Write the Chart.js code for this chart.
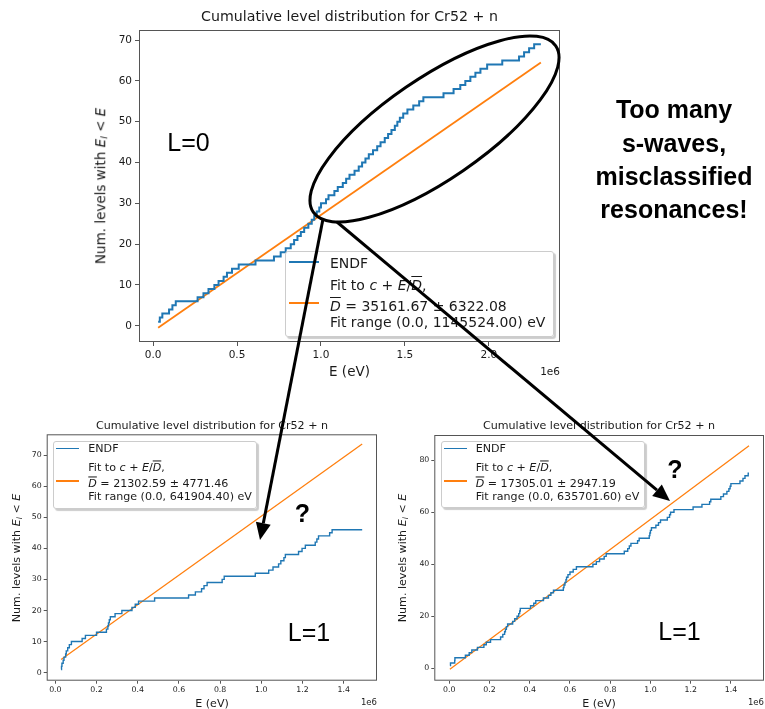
<!DOCTYPE html>
<html><head><meta charset="utf-8">
<script src="https://cdn.jsdelivr.net/npm/chart.js@4.4.0/dist/chart.umd.min.js"></script>
<style>
html,body{margin:0;padding:0;background:#fff;}
#stage{position:relative;width:765px;height:709px;overflow:hidden;font-family:"DejaVu Sans",sans-serif;color:#1a1a1a;}
canvas{position:absolute;}
.t{position:absolute;white-space:nowrap;line-height:1;}
.c{transform:translate(-50%,-50%);}
.l{transform:translate(0,-50%);}
.r{transform:translate(-100%,-50%);}
.rot{transform:translate(-50%,-50%) rotate(-90deg);}
.leg{position:absolute;border:1px solid #ccc;border-radius:3px;background:rgba(255,255,255,0.8);box-shadow:2px 2px 1px rgba(0,0,0,0.2);box-sizing:border-box;}
.smp{position:absolute;}
.ann{font-family:"Liberation Sans",Arial,sans-serif;color:#000;}
.b{font-weight:bold;}
.ol{text-decoration:overline;}
sub{font-size:0.7em;vertical-align:-0.25em;line-height:0;}
</style></head>
<body>
<div id="stage">
<canvas id="cTop"></canvas>
<canvas id="cL1a"></canvas>
<canvas id="cL1b"></canvas>

<!-- top chart texts -->
<div class="t c" style="left:349.5px;top:16px;font-size:14.2px">Cumulative level distribution for Cr52 + n</div>
<div class="t rot" style="left:101px;top:186px;font-size:13.5px">Num. levels with <i>E<sub>l</sub></i> &lt; <i>E</i></div>
<div class="t c" style="left:349.5px;top:372px;font-size:13.5px">E (eV)</div>
<div class="t r" style="left:560px;top:371px;font-size:10.5px">1e6</div>
<div class="leg" style="left:285px;top:251px;width:269px;height:86px"></div>
<div class="smp" style="left:289px;top:261px;width:30px;height:2px;background:#1f77b4"></div>
<div class="t l" style="left:330px;top:262.5px;font-size:14px">ENDF</div>
<div class="t l" style="left:330px;top:285px;font-size:14px">Fit to <i>c</i> + <i>E</i>/<i class="ol">D</i>,</div>
<div class="smp" style="left:289px;top:302px;width:30px;height:2px;background:#ff7f0e"></div>
<div class="t l" style="left:330px;top:306px;font-size:14px"><i class="ol">D</i> = 35161.67 ± 6322.08</div>
<div class="t l" style="left:330px;top:321.5px;font-size:14px">Fit range (0.0, 1145524.00) eV</div>

<!-- bottom-left chart texts -->
<div class="t c" style="left:212px;top:425.5px;font-size:11.1px">Cumulative level distribution for Cr52 + n</div>
<div class="t rot" style="left:16.5px;top:557.5px;font-size:11.1px">Num. levels with <i>E<sub>l</sub></i> &lt; <i>E</i></div>
<div class="t c" style="left:212px;top:704px;font-size:11.1px">E (eV)</div>
<div class="t r" style="left:377px;top:702px;font-size:8.5px">1e6</div>
<div class="leg" style="left:52.5px;top:440.5px;width:204px;height:68px"></div>
<div class="smp" style="left:55.5px;top:447.6px;width:23px;height:1.5px;background:#1f77b4"></div>
<div class="t l" style="left:88.3px;top:448.7px;font-size:11.1px">ENDF</div>
<div class="t l" style="left:88.3px;top:468px;font-size:11.1px">Fit to <i>c</i> + <i>E</i>/<i class="ol">D</i>,</div>
<div class="smp" style="left:55.5px;top:480px;width:23px;height:1.5px;background:#ff7f0e"></div>
<div class="t l" style="left:88.3px;top:484px;font-size:11.1px"><i class="ol">D</i> = 21302.59 ± 4771.46</div>
<div class="t l" style="left:88.3px;top:497px;font-size:11.1px">Fit range (0.0, 641904.40) eV</div>

<!-- bottom-right chart texts -->
<div class="t c" style="left:599px;top:425.5px;font-size:11.1px">Cumulative level distribution for Cr52 + n</div>
<div class="t rot" style="left:403px;top:557.5px;font-size:11.1px">Num. levels with <i>E<sub>l</sub></i> &lt; <i>E</i></div>
<div class="t c" style="left:599px;top:704px;font-size:11.1px">E (eV)</div>
<div class="t r" style="left:764px;top:702px;font-size:8.5px">1e6</div>
<div class="leg" style="left:441px;top:440.5px;width:204px;height:67px"></div>
<div class="smp" style="left:444.3px;top:447.6px;width:22.5px;height:1.5px;background:#1f77b4"></div>
<div class="t l" style="left:475.7px;top:448.7px;font-size:11.1px">ENDF</div>
<div class="t l" style="left:475.7px;top:468px;font-size:11.1px">Fit to <i>c</i> + <i>E</i>/<i class="ol">D</i>,</div>
<div class="smp" style="left:444.3px;top:480px;width:22.5px;height:1.5px;background:#ff7f0e"></div>
<div class="t l" style="left:475.7px;top:484px;font-size:11.1px"><i class="ol">D</i> = 17305.01 ± 2947.19</div>
<div class="t l" style="left:475.7px;top:497px;font-size:11.1px">Fit range (0.0, 635701.60) eV</div>

<!-- annotations -->
<svg width="765" height="709" style="position:absolute;left:0;top:0;pointer-events:none">
<ellipse cx="434.5" cy="129" rx="147" ry="50.5" transform="rotate(-34.45 434.5 129)" fill="none" stroke="#000" stroke-width="3"/>
<line x1="323" y1="219" x2="263.3" y2="523.3" stroke="#000" stroke-width="3"/>
<polygon points="260,540 270.7,524.8 255.9,521.8" fill="#000"/>
<line x1="337" y1="222" x2="657" y2="490.1" stroke="#000" stroke-width="3"/>
<polygon points="670,501 652.2,495.9 661.8,484.4" fill="#000"/>
</svg>
<div class="t c ann" style="left:188.5px;top:142px;font-size:25px">L=0</div>
<div class="t c ann b" style="left:674px;top:109px;font-size:25px">Too many</div>
<div class="t c ann b" style="left:674px;top:142.5px;font-size:25px">s-waves,</div>
<div class="t c ann b" style="left:674px;top:176px;font-size:25px">misclassified</div>
<div class="t c ann b" style="left:674px;top:209px;font-size:25px">resonances!</div>
<div class="t c ann" style="left:309px;top:632px;font-size:25px">L=1</div>
<div class="t c ann b" style="left:302.5px;top:513px;font-size:25px">?</div>
<div class="t c ann" style="left:679.5px;top:631px;font-size:25px">L=1</div>
<div class="t c ann b" style="left:675px;top:469px;font-size:25px">?</div>
</div>

<script>
// ---- data (energies in units of 1e6 eV) ----
const levelsL0 = [0.030,0.040,0.055,0.095,0.115,0.135,0.265,0.300,0.330,0.365,
  0.390,0.420,0.440,0.470,0.510,0.610,0.720,0.760,0.790,0.820,
  0.840,0.860,0.880,0.900,0.925,0.945,0.960,0.975,0.990,1.000,
  1.030,1.045,1.080,1.100,1.130,1.150,1.170,1.200,1.225,1.245,
  1.265,1.285,1.310,1.335,1.355,1.380,1.400,1.420,1.440,1.455,
  1.470,1.490,1.515,1.550,1.585,1.610,1.730,1.790,1.830,1.860,
  1.890,1.920,1.950,1.990,2.080,2.180,2.210,2.240,2.270];
const endL0 = 2.310;
const fitL0E = [0.030, 2.310];
const fitL0N = [-0.5, 64.5];

const levelsL1a = [0.028,0.030,0.032,0.038,0.042,0.050,0.053,0.060,0.068,0.078,
  0.130,0.146,0.200,0.248,0.255,0.258,0.262,0.267,0.290,0.323,
  0.372,0.388,0.404,0.482,0.647,0.680,0.710,0.722,0.737,0.810,
  0.820,0.971,1.036,1.057,1.084,1.095,1.110,1.117,1.181,1.198,
  1.214,1.262,1.270,1.278,1.332,1.344];
const endL1a = 1.490;
const fitL1aE = [0.028, 1.490];
const fitL1aN = [4.2, 73.6];

const levelsL1b = [0.003,0.006,0.027,0.028,0.080,0.099,0.112,0.140,0.172,0.184,
  0.205,0.255,0.266,0.275,0.279,0.284,0.290,0.315,0.325,0.337,
  0.345,0.350,0.353,0.404,0.420,0.430,0.468,0.493,0.505,0.518,
  0.567,0.570,0.575,0.580,0.583,0.590,0.600,0.616,0.632,0.714,
  0.731,0.747,0.770,0.780,0.870,0.887,0.895,0.903,0.936,0.944,
  0.994,0.997,1.000,1.005,1.027,1.040,1.050,1.084,1.095,1.100,
  1.117,1.212,1.256,1.294,1.300,1.350,1.363,1.380,1.390,1.396,
  1.400,1.445,1.460,1.470,1.486];
const endL1b = 1.490;
const fitL1bE = [0.003, 1.490];
const fitL1bN = [-0.4, 85.6];

// tick spacing
const xStepTop = 0.5, yStepTop = 10;
const xStepBot = 0.2, yStepL1a = 10, yStepL1b = 20;

function stepPoints(levels, end){
  const pts = levels.map((e,i)=>({x:e, y:i+1}));
  pts.push({x:end, y:levels.length});
  return pts;
}
function fitPoints(E, N){ return E.map((e,i)=>({x:e, y:N[i]})); }

const framePlugin = {
  id:'frame',
  afterDraw(ch){
    const a = ch.chartArea, c = ch.ctx;
    c.save(); c.strokeStyle = '#555'; c.lineWidth = 1;
    c.strokeRect(a.left+0.5, a.top+0.5, a.right-a.left-1, a.bottom-a.top-1);
    c.restore();
  }
};

function makeChart(id, box, area, s){
  const cv = document.getElementById(id);
  cv.width = box.w; cv.height = box.h;
  cv.style.left = box.x+'px'; cv.style.top = box.y+'px';
  cv.style.width = box.w+'px'; cv.style.height = box.h+'px';
  const tickFont = {family:'DejaVu Sans', size:s.fs};
  const grid = {display:true, drawOnChartArea:false, drawTicks:true, tickLength:s.tl, color:'#555', lineWidth:1};
  new Chart(cv, {
    type:'scatter',
    data:{datasets:[
      {data:s.step, showLine:true, stepped:'before', borderColor:'#1f77b4', backgroundColor:'#1f77b4', borderWidth:s.lw, pointRadius:0, fill:false, tension:0},
      {data:s.fit, showLine:true, borderColor:'#ff7f0e', backgroundColor:'#ff7f0e', borderWidth:s.lw*0.9, pointRadius:0, fill:false, tension:0}
    ]},
    options:{
      responsive:false, animation:false, devicePixelRatio:1, events:[],
      layout:{padding:{left:0, top:area.t-box.y, right:box.x+box.w-area.r, bottom:0}},
      plugins:{legend:{display:false}, title:{display:false}, tooltip:{enabled:false}},
      scales:{
        x:{type:'linear', position:'bottom', min:s.xmin, max:s.xmax,
           afterFit(sc){ sc.height = box.y+box.h-area.b; },
           ticks:{stepSize:s.xs, includeBounds:false, autoSkip:false, maxRotation:0, minRotation:0,
                  font:tickFont, color:'#1a1a1a', padding:s.pad, callback:v=>Number(v).toFixed(1)},
           grid:grid, border:{display:false}},
        y:{type:'linear', position:'left', min:s.ymin, max:s.ymax,
           afterFit(sc){ sc.width = area.l-box.x; },
           ticks:{stepSize:s.ys, includeBounds:false, autoSkip:false,
                  font:tickFont, color:'#1a1a1a', padding:s.pad, callback:v=>String(Math.round(v))},
           grid:grid, border:{display:false}}
      }
    },
    plugins:[framePlugin]
  });
}

makeChart('cTop', {x:60,y:10,w:520,h:375}, {l:139,t:30,r:560,b:342},
  {step:stepPoints(levelsL0,endL0), fit:fitPoints(fitL0E,fitL0N), lw:2,
   xmin:-0.084, xmax:2.424, ymin:-3.975, ymax:72.475, xs:xStepTop, ys:yStepTop, fs:10.5, tl:4, pad:3});
makeChart('cL1a', {x:0,y:415,w:385,h:294}, {l:46.7,t:434.3,r:377,b:680.7},
  {step:stepPoints(levelsL1a,endL1a), fit:fitPoints(fitL1aE,fitL1aN), lw:1.4,
   xmin:-0.042, xmax:1.562, ymin:-2.6, ymax:76.7, xs:xStepBot, ys:yStepL1a, fs:7.8, tl:3, pad:2});
makeChart('cL1b', {x:390,y:415,w:375,h:294}, {l:434.3,t:435,r:764,b:680.7},
  {step:stepPoints(levelsL1b,endL1b), fit:fitPoints(fitL1bE,fitL1bN), lw:1.4,
   xmin:-0.0745, xmax:1.5645, ymin:-4.8, ymax:89.7, xs:xStepBot, ys:yStepL1b, fs:7.8, tl:3, pad:2});
</script>
</body></html>
